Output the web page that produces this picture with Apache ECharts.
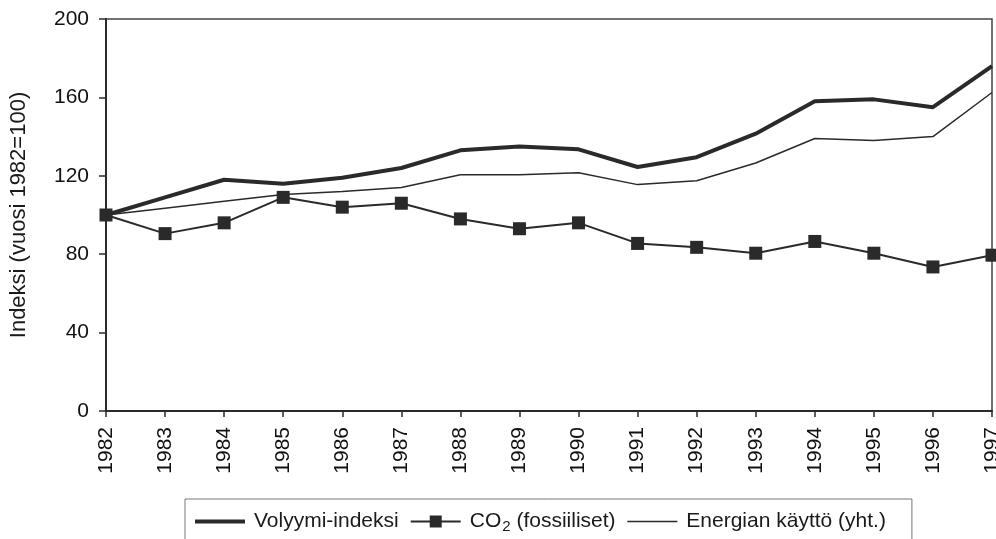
<!DOCTYPE html>
<html>
<head>
<meta charset="utf-8">
<script src="https://cdn.jsdelivr.net/npm/echarts@6/dist/echarts.min.js"></script>
<style>
  html, body { margin: 0; padding: 0; background: #fff; }
  #chart { width: 996px; height: 539px; }
</style>
</head>
<body>
<div id="chart"></div>
<script>
const years = ['1982', '1983', '1984', '1985', '1986', '1987', '1988', '1989',
    '1990', '1991', '1992', '1993', '1994', '1995', '1996', '1997'];
const volyymi = [100, 109, 118, 116, 119, 124, 133, 135, 133.5, 124.5, 129.5, 141.5, 158, 159, 155, 176];
const co2 = [100, 90.5, 96, 109, 104, 106, 98, 93, 96, 85.5, 83.5, 80.5, 86.5, 80.5, 73.5, 79.5];
const energia = [100, 103.5, 107, 110.5, 112, 114, 120.5, 120.5, 121.5, 115.5, 117.5, 126.5, 139, 138, 140, 162.5];
const yTicks = [0, 40, 80, 120, 160, 200];

const ink = '#2a2a2a';
const font = 'Liberation Sans, Arial, sans-serif';
const chart = echarts.init(document.getElementById('chart'));
chart.setOption({
    animation: false,
    textStyle: { fontFamily: font },
    grid: {
        left: 106,
        right: 4,
        top: 19,
        bottom: 128,
        outerBoundsMode: 'none',
        show: true,
        borderColor: '#444',
        borderWidth: 1.5
    },
    legend: {
        left: 185,
        top: 499,
        itemGap: 11,
        itemWidth: 50,
        itemHeight: 15,
        padding: [12, 26, 6, 8],
        borderColor: '#777',
        borderWidth: 1,
        textStyle: {
            color: '#1a1a1a',
            fontSize: 21,
            rich: {
                a: { fontSize: 21, color: '#1a1a1a', fontFamily: font, padding: [0, 0, 0, 4] },
                b: { fontSize: 21, color: '#1a1a1a', fontFamily: font },
                s: { fontSize: 15, color: '#1a1a1a', fontFamily: font, padding: [10, 0, 0, 1] }
            }
        },
        formatter: function (name) {
            if (name === 'CO2') return '{a|CO}{s|2}{b| (fossiiliset)}';
            return '{a|' + name + '}';
        },
        data: [
            { name: 'Volyymi-indeksi', itemStyle: { opacity: 0 }, lineStyle: { width: 4, color: ink } },
            { name: 'CO2', lineStyle: { width: 2, color: ink } },
            { name: 'Energian käyttö (yht.)', itemStyle: { opacity: 0 }, lineStyle: { width: 1.5, color: ink } }
        ]
    },
    xAxis: {
        type: 'category',
        data: years,
        boundaryGap: false,
        axisLine: { lineStyle: { color: ink, width: 2 } },
        axisTick: { length: 6, lineStyle: { color: ink, width: 1.5 } },
        axisLabel: {
            rotate: 90,
            color: '#111',
            fontSize: 21,
            margin: 16,
            interval: 0,
            hideOverlap: false
        }
    },
    yAxis: {
        type: 'value',
        min: 0,
        max: 200,
        interval: 40,
        name: 'Indeksi (vuosi 1982=100)',
        nameLocation: 'middle',
        nameGap: 76,
        nameRotate: 90,
        nameTextStyle: { fontSize: 22, color: '#1a1a1a' },
        axisLine: { show: true, lineStyle: { color: ink, width: 2 } },
        axisTick: { show: true, length: 7, lineStyle: { color: ink, width: 1.5 } },
        splitLine: { show: false },
        axisLabel: {
            color: '#111',
            fontSize: 21,
            margin: 17,
            formatter: function (v) { return yTicks.indexOf(v) >= 0 ? String(v) : ''; }
        }
    },
    series: [
        {
            name: 'Volyymi-indeksi',
            type: 'line',
            data: volyymi,
            showSymbol: false,
            symbol: 'none',
            lineStyle: { color: ink, width: 4 },
            itemStyle: { color: ink },
            z: 3
        },
        {
            name: 'CO2',
            type: 'line',
            data: co2,
            symbol: 'rect',
            symbolSize: 13,
            lineStyle: { color: ink, width: 2 },
            itemStyle: { color: ink },
            z: 4
        },
        {
            name: 'Energian käyttö (yht.)',
            type: 'line',
            data: energia,
            symbol: 'none',
            lineStyle: { color: ink, width: 1.5 },
            itemStyle: { color: ink },
            z: 2
        }
    ]
});
</script>
</body>
</html>
